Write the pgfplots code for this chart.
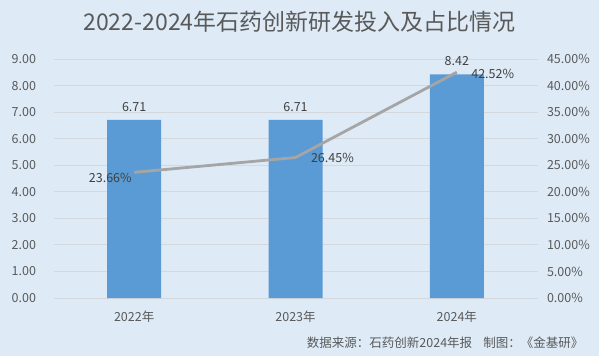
\documentclass[border=0pt]{standalone}
\usepackage{pgfplots}
\pgfplotsset{compat=1.18}
\usepackage{fontspec}
\setmainfont{Noto Sans CJK SC}
\definecolor{bg}{HTML}{DEEBF7}
\definecolor{barc}{HTML}{5B9BD5}
\definecolor{linec}{HTML}{A5A5A5}
\definecolor{gridc}{HTML}{D4D8DC}
\definecolor{txt}{HTML}{595959}
\definecolor{lab}{HTML}{404040}
\begin{document}
\begin{tikzpicture}[x=1bp,y=1bp]
\fill[bg] (0,0) rectangle (599,356);
\node[text=txt, font=\fontsize{23bp}{26bp}\selectfont] at (299.5,334) {2022-2024年石药创新研发投入及占比情况};
\node[text=txt, font=\fontsize{12.5bp}{14bp}\selectfont, anchor=east] at (587,13) {数据来源：石药创新2024年报\hspace{0.9em}制图：《金基研》};
\begin{axis}[at={(53.5bp,58bp)}, anchor=south west, scale only axis, width=484bp, height=239bp,
  xmin=-0.5, xmax=2.5, ymin=0, ymax=9,
  xtick={0,1,2}, xticklabels={2022年,2023年,2024年},
  ytick={0,1,...,9}, scaled ticks=false,
  axis line style={draw=none}, major tick length=0pt,
  ymajorgrids, grid style={color=gridc, line width=0.8bp},
  tick label style={text=txt, font=\fontsize{12.5bp}{14bp}\selectfont},
  y tick label style={/pgf/number format/fixed, /pgf/number format/fixed zerofill, /pgf/number format/precision=2, /pgf/number format/assume math mode=true, xshift=-14bp},
  ytick pos=left, xtick pos=bottom,
  xticklabel style={yshift=-9bp},
  ybar, bar width=54bp,
  nodes near coords, every node near coord/.append style={text=lab, font=\fontsize{12.5bp}{14bp}\selectfont, yshift=5bp,
    /pgf/number format/fixed, /pgf/number format/fixed zerofill, /pgf/number format/precision=2, /pgf/number format/assume math mode=true},
  clip=false,
]
\addplot[fill=barc, draw=none] coordinates {(0,6.71) (1,6.71) (2,8.42)};
\end{axis}
\begin{axis}[at={(53.5bp,58bp)}, anchor=south west, scale only axis, width=484bp, height=239bp,
  xmin=-0.5, xmax=2.5, ymin=0, ymax=45,
  ytick={0,5,...,45}, scaled ticks=false,
  axis y line*=right, hide x axis,
  axis line style={draw=none}, major tick length=0pt,
  tick label style={text=txt, font=\fontsize{12.5bp}{14bp}\selectfont},
  yticklabel={\pgfmathprintnumber[fixed,fixed zerofill,precision=2,assume math mode=true]{\tick}\%},
  yticklabel style={xshift=6bp},
  clip=false,
]
\addplot[color=linec, line width=2.8bp, no markers] coordinates {(0,23.66) (1,26.45) (2,42.52)};
\node[text=lab, font=\fontsize{12.5bp}{14bp}\selectfont, anchor=east] at ([xshift=1bp,yshift=-6bp]axis cs:0,23.66) {23.66\%};
\node[text=lab, font=\fontsize{12.5bp}{14bp}\selectfont, anchor=west] at ([xshift=12bp]axis cs:1,26.45) {26.45\%};
\node[text=lab, font=\fontsize{12.5bp}{14bp}\selectfont, anchor=west] at ([xshift=11bp,yshift=-2bp]axis cs:2,42.52) {42.52\%};
\end{axis}
\end{tikzpicture}
\end{document}
